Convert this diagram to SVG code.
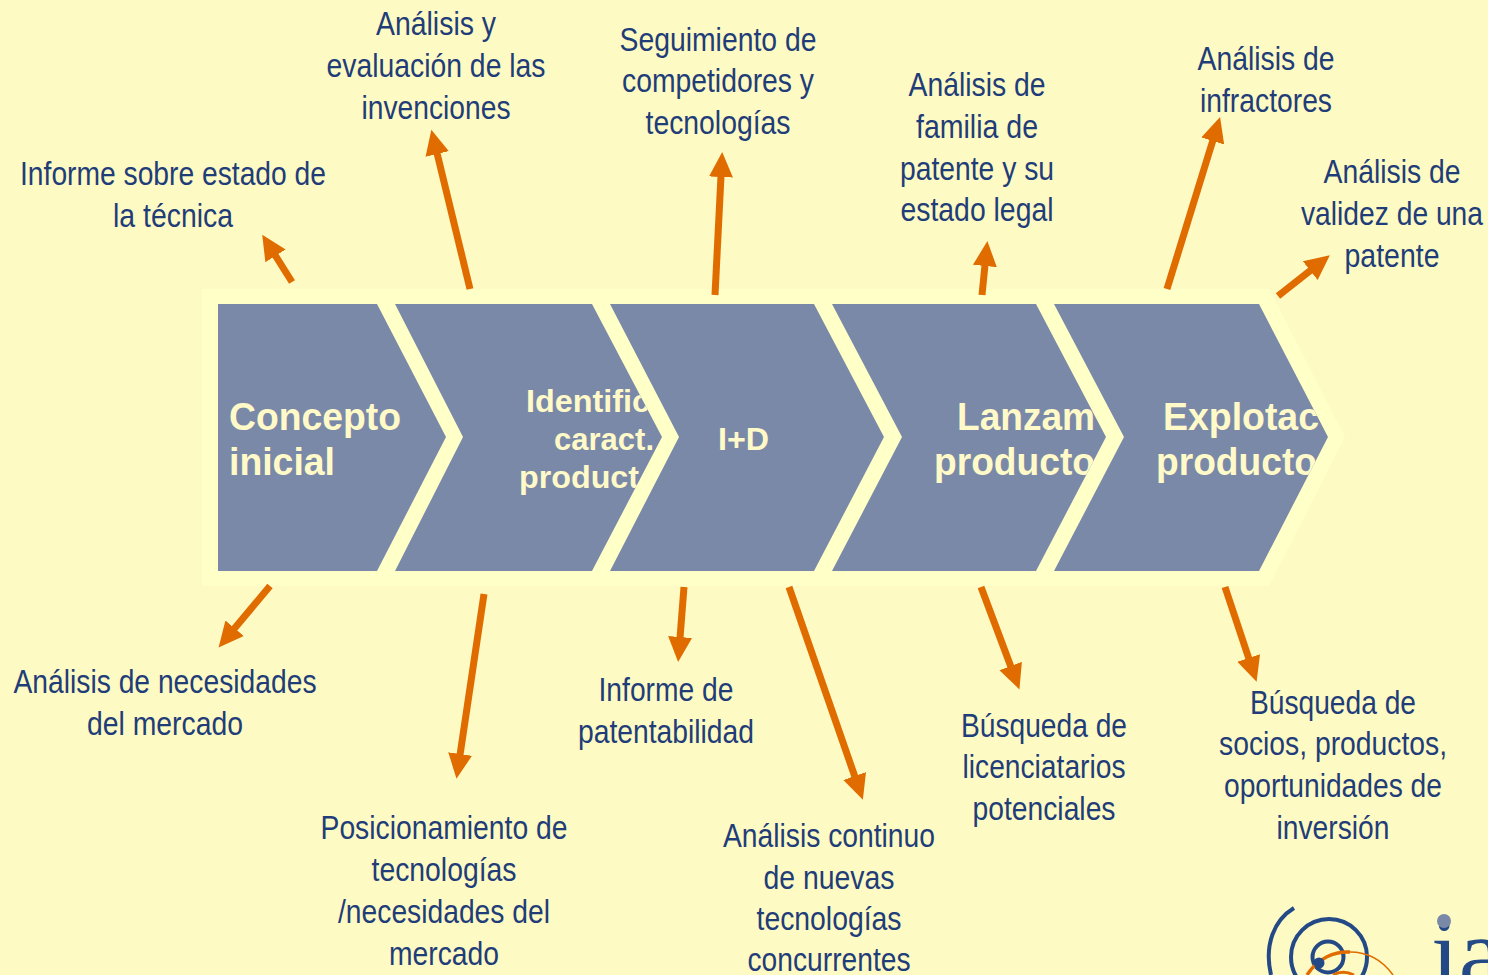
<svg xmlns="http://www.w3.org/2000/svg" width="1488" height="975" viewBox="0 0 1488 975">
<style>
.s{fill:#7b89a9}
.n{font-family:"Liberation Sans",Arial,sans-serif;font-weight:bold;fill:#fffac8}
.l{font-family:"Liberation Sans",Arial,sans-serif;font-size:33px;fill:#1f3d78;text-anchor:middle}
.c{fill:none;stroke:#e06c00;stroke-width:7;marker-end:url(#ah)}
</style>
<defs>
<marker id="ah" markerUnits="userSpaceOnUse" markerWidth="26" markerHeight="26" refX="1" refY="13" orient="auto"><path d="M0 1 L25 13 L0 25Z" fill="#e06c00"/></marker>
<clipPath id="c2"><polygon points="395,304 592,304 662,437 592,571 395,571 463,437"/></clipPath>
<clipPath id="c4"><polygon points="832,304 1036,304 1106,437 1036,571 832,571 902,437"/></clipPath>
<clipPath id="c5"><polygon points="1054,304 1259,304 1328,437 1259,571 1054,571 1124,437"/></clipPath>
</defs>
<rect width="1488" height="975" fill="#fefac3"/>
<polygon id="halo" points="202,289 1269,289 1345,437 1269,586 202,586" fill="#ffffc8"/>
<g id="node1"><polygon class="s" points="218,304 377,304 446,437 377,571 218,571"/>
<text class="n" font-size="38" x="229" y="430" textLength="172" lengthAdjust="spacingAndGlyphs">Concepto</text><text class="n" font-size="38" x="229" y="475" textLength="106" lengthAdjust="spacingAndGlyphs">inicial</text></g>
<g id="node2"><polygon class="s" points="395,304 592,304 662,437 592,571 395,571 463,437"/>
<g clip-path="url(#c2)"><text class="n" font-size="32" x="526" y="412" textLength="124" lengthAdjust="spacingAndGlyphs">Identific</text><text class="n" font-size="32" x="554" y="450" textLength="100" lengthAdjust="spacingAndGlyphs">caract.</text><text class="n" font-size="32" x="519" y="488" textLength="120" lengthAdjust="spacingAndGlyphs">product</text></g></g>
<g id="node3"><polygon class="s" points="610,304 814,304 884,437 814,571 610,571 679,437"/>
<text class="n" font-size="32" x="718" y="450" textLength="51" lengthAdjust="spacingAndGlyphs">I+D</text></g>
<g id="node4"><polygon class="s" points="832,304 1036,304 1106,437 1036,571 832,571 902,437"/>
<g clip-path="url(#c4)"><text class="n" font-size="38" x="957" y="430" textLength="138" lengthAdjust="spacingAndGlyphs">Lanzam</text><text class="n" font-size="38" x="934" y="475" textLength="161" lengthAdjust="spacingAndGlyphs">producto</text></g></g>
<g id="node5"><polygon class="s" points="1054,304 1259,304 1328,437 1259,571 1054,571 1124,437"/>
<g clip-path="url(#c5)"><text class="n" font-size="38" x="1163" y="430" textLength="156" lengthAdjust="spacingAndGlyphs">Explotac</text><text class="n" font-size="38" x="1156" y="475" textLength="161" lengthAdjust="spacingAndGlyphs">producto</text></g></g>
<g id="connectors">
<path class="c" d="M292 282L275 255"/>
<path class="c" d="M470 289L437 153"/>
<path class="c" d="M715 295L721 176"/>
<path class="c" d="M982 295L985 265"/>
<path class="c" d="M1167 289L1213 140"/>
<path class="c" d="M1278 296L1311 270"/>
<path class="c" d="M270 586L234 629"/>
<path class="c" d="M484 594L460 755"/>
<path class="c" d="M684 587L680 638"/>
<path class="c" d="M789 587L855 777"/>
<path class="c" d="M981 587L1011 667"/>
<path class="c" d="M1225 587L1249 659"/>
</g>
<g id="label1"><text class="l" x="173" y="185" textLength="306" lengthAdjust="spacingAndGlyphs">Informe sobre estado de</text><text class="l" x="173" y="227" textLength="120" lengthAdjust="spacingAndGlyphs">la técnica</text></g>
<g id="label2"><text class="l" x="436" y="35" textLength="120" lengthAdjust="spacingAndGlyphs">Análisis y</text><text class="l" x="436" y="77" textLength="219" lengthAdjust="spacingAndGlyphs">evaluación de las</text><text class="l" x="436" y="119" textLength="149" lengthAdjust="spacingAndGlyphs">invenciones</text></g>
<g id="label3"><text class="l" x="718" y="51" textLength="197" lengthAdjust="spacingAndGlyphs">Seguimiento de</text><text class="l" x="718" y="92" textLength="192" lengthAdjust="spacingAndGlyphs">competidores y</text><text class="l" x="718" y="134" textLength="145" lengthAdjust="spacingAndGlyphs">tecnologías</text></g>
<g id="label4"><text class="l" x="977" y="96" textLength="137" lengthAdjust="spacingAndGlyphs">Análisis de</text><text class="l" x="977" y="138" textLength="122" lengthAdjust="spacingAndGlyphs">familia de</text><text class="l" x="977" y="180" textLength="154" lengthAdjust="spacingAndGlyphs">patente y su</text><text class="l" x="977" y="221" textLength="153" lengthAdjust="spacingAndGlyphs">estado legal</text></g>
<g id="label5"><text class="l" x="1266" y="70" textLength="137" lengthAdjust="spacingAndGlyphs">Análisis de</text><text class="l" x="1266" y="112" textLength="132" lengthAdjust="spacingAndGlyphs">infractores</text></g>
<g id="label6"><text class="l" x="1392" y="183" textLength="137" lengthAdjust="spacingAndGlyphs">Análisis de</text><text class="l" x="1392" y="225" textLength="182" lengthAdjust="spacingAndGlyphs">validez de una</text><text class="l" x="1392" y="267" textLength="95" lengthAdjust="spacingAndGlyphs">patente</text></g>
<g id="label7"><text class="l" x="165" y="693" textLength="303" lengthAdjust="spacingAndGlyphs">Análisis de necesidades</text><text class="l" x="165" y="735" textLength="156" lengthAdjust="spacingAndGlyphs">del mercado</text></g>
<g id="label8"><text class="l" x="444" y="839" textLength="247" lengthAdjust="spacingAndGlyphs">Posicionamiento de</text><text class="l" x="444" y="881" textLength="145" lengthAdjust="spacingAndGlyphs">tecnologías</text><text class="l" x="444" y="923" textLength="212" lengthAdjust="spacingAndGlyphs">/necesidades del</text><text class="l" x="444" y="965" textLength="110" lengthAdjust="spacingAndGlyphs">mercado</text></g>
<g id="label9"><text class="l" x="666" y="701" textLength="135" lengthAdjust="spacingAndGlyphs">Informe de</text><text class="l" x="666" y="743" textLength="176" lengthAdjust="spacingAndGlyphs">patentabilidad</text></g>
<g id="label10"><text class="l" x="829" y="847" textLength="212" lengthAdjust="spacingAndGlyphs">Análisis continuo</text><text class="l" x="829" y="889" textLength="131" lengthAdjust="spacingAndGlyphs">de nuevas</text><text class="l" x="829" y="930" textLength="145" lengthAdjust="spacingAndGlyphs">tecnologías</text><text class="l" x="829" y="971" textLength="163" lengthAdjust="spacingAndGlyphs">concurrentes</text></g>
<g id="label11"><text class="l" x="1044" y="737" textLength="166" lengthAdjust="spacingAndGlyphs">Búsqueda de</text><text class="l" x="1044" y="778" textLength="163" lengthAdjust="spacingAndGlyphs">licenciatarios</text><text class="l" x="1044" y="820" textLength="143" lengthAdjust="spacingAndGlyphs">potenciales</text></g>
<g id="label12"><text class="l" x="1333" y="714" textLength="166" lengthAdjust="spacingAndGlyphs">Búsqueda de</text><text class="l" x="1333" y="755" textLength="228" lengthAdjust="spacingAndGlyphs">socios, productos,</text><text class="l" x="1333" y="797" textLength="218" lengthAdjust="spacingAndGlyphs">oportunidades de</text><text class="l" x="1333" y="839" textLength="113" lengthAdjust="spacingAndGlyphs">inversión</text></g>
<g id="logo" fill="none">
<path d="M1294 908C1274 920 1264 945 1271 975" stroke="#234a86" stroke-width="4"/>
<circle cx="1329" cy="957" r="38" stroke="#234a86" stroke-width="4"/>
<circle cx="1328" cy="957" r="15.500" stroke="#234a86" stroke-width="4"/>
<path d="M1307 975C1318 958 1335 951 1350 952" stroke="#e06c00" stroke-width="3.500"/>
<path d="M1350 952C1368 952 1383 961 1393 975" stroke="#e06c00" stroke-width="1.500"/>
<path d="M1333 975C1340 971 1348 972 1354 975" stroke="#e06c00" stroke-width="3"/>
<circle cx="1319" cy="963" r="5.500" fill="#234a86"/>
<text x="1431" y="986" font-family="'Liberation Serif',serif" font-size="100" fill="#234a86">ia</text>
<circle cx="1444" cy="921" r="7" fill="#7b89a9"/>
</g>
</svg>
